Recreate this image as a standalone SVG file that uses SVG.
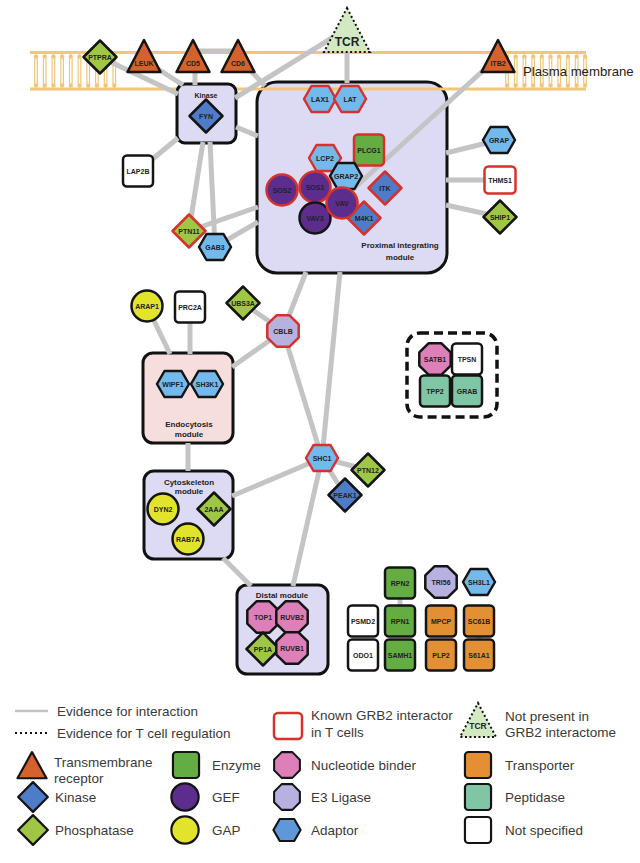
<svg xmlns="http://www.w3.org/2000/svg" xmlns:xlink="http://www.w3.org/1999/xlink" width="640" height="863" viewBox="0 0 640 863">
<style>
.e{stroke:#c4c4c4;stroke-width:5;fill:none}
.mod{fill:#dddbf3;stroke:#111;stroke-width:3}
.endo{fill:#f7dede}
.n{stroke:#141414;stroke-width:2.5;stroke-linejoin:round}
.r{stroke:#d6312b}
.tm{fill:#d4622a}.ki{fill:#4f7cc8}.ph{fill:#9fc745}.en{fill:#63ad43}.gef{fill:#5c2d8c}.gap{fill:#e2e42c}
.nb{fill:#dd80ba}.e3{fill:#b6b1df}.ad{fill:#74b9ec}.adl{fill:#5f97d8}.tr{fill:#e38f33}.pe{fill:#80c5a5}.ns{fill:#fff}
.l{font-family:"Liberation Sans",Arial,sans-serif;font-weight:bold;font-size:7px;fill:#222;text-anchor:middle}
.ml{font-family:"Liberation Sans",Arial,sans-serif;font-weight:bold;font-size:8px;fill:#222;text-anchor:middle}
.lg{font-family:"Liberation Sans",Arial,sans-serif;font-size:13.5px;fill:#3a3a3a}
.mb{stroke:#f1c67a;stroke-width:3;fill:none}
.lp{stroke:#f1c67a;stroke-width:1.2}
.hd{fill:#f1c67a}
.dot{stroke:#111;stroke-width:2;stroke-dasharray:2 2.5;fill:#d2e9c4}
</style>
<defs>
<polygon id="hex" points="-16,0 -8.5,-13 8.5,-13 16,0 8.5,13 -8.5,13"/>
<polygon id="oct" points="15.71,6.51 6.51,15.71 -6.51,15.71 -15.71,6.51 -15.71,-6.51 -6.51,-15.71 6.51,-15.71 15.71,-6.51"/>
<polygon id="dia" points="0,-16.5 16.5,0 0,16.5 -16.5,0"/>
<polygon id="tri" points="0,-17 16.5,15 -16.5,15"/>
<rect id="sq" x="-15" y="-15.5" width="30" height="31" rx="4"/>
<circle id="cir" r="15.5"/>
<g id="lip"><circle class="hd" cx="0" cy="56.5" r="2.2"/><circle class="hd" cx="0" cy="85.5" r="2.2"/><line class="lp" x1="-1.3" y1="58" x2="-1.3" y2="84"/><line class="lp" x1="1.3" y1="58" x2="1.3" y2="84"/></g>
</defs>

<rect width="640" height="863" fill="#fff"/>

<!-- Proximal module box (under membrane line) -->
<g id="mod-proximal">
<rect class="mod" x="257" y="82" width="190" height="191" rx="20"/>
</g>

<!-- Membrane -->
<g id="membrane">
<line class="mb" x1="30" y1="52.5" x2="586" y2="52.5"/>
<line class="mb" x1="30" y1="89" x2="586" y2="89"/>
<use href="#lip" x="36"/><use href="#lip" x="44.7"/><use href="#lip" x="53.4"/><use href="#lip" x="62.1"/><use href="#lip" x="70.8"/><use href="#lip" x="79.5"/><use href="#lip" x="88.2"/><use href="#lip" x="96.9"/><use href="#lip" x="105.6"/><use href="#lip" x="114.3"/>
<use href="#lip" x="507"/><use href="#lip" x="515.7"/><use href="#lip" x="524.4"/><use href="#lip" x="533.1"/><use href="#lip" x="541.8"/><use href="#lip" x="550.5"/><use href="#lip" x="559.2"/><use href="#lip" x="567.9"/><use href="#lip" x="576.6"/><use href="#lip" x="585"/>
<text class="lg" x="523" y="76" style="font-size:13.2px;fill:#222">Plasma membrane</text>
</g>

<!-- Other modules -->
<g id="mod-kinase"><rect class="mod" x="177" y="84" width="59" height="59" rx="8"/><text class="l" x="206" y="98">Kinase</text></g>
<g id="mod-endocytosis"><rect class="mod endo" x="143" y="353" width="90" height="90" rx="10"/><text class="ml" x="189" y="427">Endocytosis</text><text class="ml" x="189" y="436.5">module</text></g>
<g id="mod-cytoskeleton"><rect class="mod" x="144" y="471" width="89" height="88" rx="10"/><text class="ml" x="189" y="485">Cytoskeleton</text><text class="ml" x="189" y="494">module</text></g>
<g id="mod-distal"><rect class="mod" x="237" y="585" width="91" height="89" rx="10"/><text class="ml" x="282" y="598">Distal module</text></g>
<g id="cluster"><rect x="407" y="333" width="90" height="84" rx="13" fill="none" stroke="#111" stroke-width="3.5" stroke-dasharray="9 5"/></g>

<!-- Connectors -->
<g id="edges">
<line class="e" x1="100" y1="57" x2="178" y2="94"/>
<line class="e" x1="144" y1="60" x2="183" y2="85"/>
<line class="e" x1="195" y1="60" x2="195" y2="85"/>
<line class="e" x1="193" y1="51" x2="238" y2="51"/>
<line class="e" x1="238" y1="57" x2="265" y2="86"/>
<line class="e" x1="235" y1="98" x2="340" y2="33"/>
<line class="e" x1="347" y1="40" x2="347" y2="83"/>
<line class="e" x1="498" y1="57" x2="350" y2="192"/>
<line class="e" x1="236" y1="127" x2="258" y2="136"/>
<line class="e" x1="178" y1="138" x2="138" y2="171"/>
<line class="e" x1="203" y1="142" x2="189" y2="231"/>
<line class="e" x1="210" y1="142" x2="215" y2="247"/>
<line class="e" x1="189" y1="231" x2="258" y2="207"/>
<line class="e" x1="215" y1="247" x2="258" y2="222"/>
<line class="e" x1="446" y1="153" x2="499" y2="140"/>
<line class="e" x1="446" y1="180" x2="500" y2="180"/>
<line class="e" x1="446" y1="205" x2="500" y2="217"/>
<line class="e" x1="306" y1="272" x2="283" y2="331"/>
<line class="e" x1="340" y1="272" x2="322" y2="458"/>
<line class="e" x1="243" y1="303" x2="283" y2="331"/>
<line class="e" x1="283" y1="331" x2="232" y2="367"/>
<line class="e" x1="283" y1="331" x2="322" y2="458"/>
<line class="e" x1="147" y1="306" x2="170" y2="354"/>
<line class="e" x1="190" y1="307" x2="190" y2="354"/>
<line class="e" x1="188" y1="443" x2="188" y2="471"/>
<line class="e" x1="322" y1="458" x2="232" y2="496"/>
<line class="e" x1="322" y1="458" x2="368" y2="470"/>
<line class="e" x1="322" y1="458" x2="345" y2="495"/>
<line class="e" x1="322" y1="458" x2="293" y2="586"/>
<line class="e" x1="223" y1="558" x2="251" y2="586"/>
<line class="e" x1="400" y1="583" x2="400" y2="621"/>
<line class="e" x1="479" y1="621" x2="479" y2="655"/>
</g>

<!-- Membrane nodes -->
<g id="PTPRA" transform="translate(100,57)"><use href="#dia" class="n ph"/><text class="l" y="2.5">PTPRA</text></g>
<g id="LEUK" transform="translate(144,57)"><use href="#tri" class="n tm"/><text class="l" y="8.5">LEUK</text></g>
<g id="CD5" transform="translate(193,57)"><use href="#tri" class="n tm"/><text class="l" y="8.5">CD5</text></g>
<g id="CD6" transform="translate(238,57)"><use href="#tri" class="n tm"/><text class="l" y="8.5">CD6</text></g>
<g id="ITB2" transform="translate(498,57)"><use href="#tri" class="n tm"/><text class="l" y="8.5">ITB2</text></g>
<g id="TCR"><polygon class="dot" points="347,8 370,52 324,52"/><text class="l" x="347" y="46" style="font-size:12px">TCR</text></g>

<!-- Kinase module -->
<g id="FYN" transform="translate(206,116)"><use href="#dia" class="n ki"/><text class="l" y="2.5">FYN</text></g>
<g id="LAP2B" transform="translate(138,171)"><use href="#sq" class="n ns"/><text class="l" y="2.5">LAP2B</text></g>
<g id="PTN11" transform="translate(189,231)"><use href="#dia" class="n r ph"/><text class="l" y="2.5">PTN11</text></g>
<g id="GAB3" transform="translate(215,247)"><use href="#hex" class="n ad"/><text class="l" y="2.5">GAB3</text></g>

<!-- Proximal module nodes -->
<g id="LAX1" transform="translate(320,99)"><use href="#hex" class="n r ad"/><text class="l" y="2.5">LAX1</text></g>
<g id="LAT" transform="translate(350,99)"><use href="#hex" class="n r ad"/><text class="l" y="2.5">LAT</text></g>
<g id="PLCG1" transform="translate(369,150)"><use href="#sq" class="n r en"/><text class="l" y="2.5">PLCG1</text></g>
<g id="LCP2" transform="translate(325,158)"><use href="#hex" class="n r ad"/><text class="l" y="2.5">LCP2</text></g>
<g id="GRAP2" transform="translate(346,176)"><use href="#hex" class="n ad"/><text class="l" y="2.5">GRAP2</text></g>
<g id="ITK" transform="translate(385,188)"><use href="#dia" class="n r ki"/><text class="l" y="2.5">ITK</text></g>
<g id="SOS2" transform="translate(282,190)"><use href="#cir" class="n r gef"/><text class="l" y="2.5">SOS2</text></g>
<g id="SOS1" transform="translate(315,187)"><use href="#cir" class="n r gef"/><text class="l" y="2.5">SOS1</text></g>
<g id="VAV3" transform="translate(315,218)"><use href="#cir" class="n gef"/><text class="l" y="2.5">VAV3</text></g>
<g id="M4K1" transform="translate(364,218)"><use href="#dia" class="n r ki"/><text class="l" y="2.5">M4K1</text></g>
<g id="VAV" transform="translate(342,203)"><use href="#cir" class="n r gef"/><text class="l" y="2.5">VAV</text></g>
<g id="proximal-label"><text class="ml" x="400" y="248">Proximal integrating</text><text class="ml" x="400" y="260">module</text></g>

<!-- Right nodes -->
<g id="GRAP" transform="translate(499,140)"><use href="#hex" class="n ad"/><text class="l" y="2.5">GRAP</text></g>
<g id="THMS1" transform="translate(500,180)"><rect x="-15.5" y="-13.5" width="31" height="27" rx="4" class="n r ns"/><text class="l" y="2.5">THMS1</text></g>
<g id="SHIP1" transform="translate(500,217)"><use href="#dia" class="n ph"/><text class="l" y="2.5">SHIP1</text></g>

<!-- Middle -->
<g id="ARAP1" transform="translate(147,306)"><use href="#cir" class="n gap"/><text class="l" y="2.5">ARAP1</text></g>
<g id="PRC2A" transform="translate(190,307)"><use href="#sq" class="n ns"/><text class="l" y="2.5">PRC2A</text></g>
<g id="UBS3A" transform="translate(243,303)"><use href="#dia" class="n ph"/><text class="l" y="2.5">UBS3A</text></g>
<g id="CBLB" transform="translate(283,331)"><use href="#oct" class="n r e3"/><text class="l" y="2.5">CBLB</text></g>
<g id="WIPF1" transform="translate(173,384)"><use href="#hex" class="n ad"/><text class="l" y="2.5">WIPF1</text></g>
<g id="SH3K1" transform="translate(207,384)"><use href="#hex" class="n ad"/><text class="l" y="2.5">SH3K1</text></g>

<g id="SATB1" transform="translate(435,359)"><use href="#oct" class="n nb"/><text class="l" y="2.5">SATB1</text></g>
<g id="TPSN" transform="translate(467,359)"><use href="#sq" class="n ns"/><text class="l" y="2.5">TPSN</text></g>
<g id="TPP2" transform="translate(435,391)"><use href="#sq" class="n pe"/><text class="l" y="2.5">TPP2</text></g>
<g id="GRAB" transform="translate(467,391)"><use href="#sq" class="n pe"/><text class="l" y="2.5">GRAB</text></g>

<g id="SHC1" transform="translate(322,458)"><use href="#hex" class="n r ad"/><text class="l" y="2.5">SHC1</text></g>
<g id="PTN12" transform="translate(368,470)"><use href="#dia" class="n ph"/><text class="l" y="2.5">PTN12</text></g>
<g id="PEAK1" transform="translate(345,495)"><use href="#dia" class="n ki"/><text class="l" y="2.5">PEAK1</text></g>

<g id="DYN2" transform="translate(163,509)"><use href="#cir" class="n gap"/><text class="l" y="2.5">DYN2</text></g>
<g id="2AAA" transform="translate(214,509)"><use href="#dia" class="n ph"/><text class="l" y="2.5">2AAA</text></g>
<g id="RAB7A" transform="translate(188,539)"><use href="#cir" class="n gap"/><text class="l" y="2.5">RAB7A</text></g>

<g id="TOP1" transform="translate(263,617)"><use href="#oct" class="n nb"/><text class="l" y="2.5">TOP1</text></g>
<g id="RUVB2" transform="translate(292,617)"><use href="#oct" class="n nb"/><text class="l" y="2.5">RUVB2</text></g>
<g id="PP1A" transform="translate(263,649)"><use href="#dia" class="n ph"/><text class="l" y="2.5">PP1A</text></g>
<g id="RUVB1" transform="translate(292,648)"><use href="#oct" class="n nb"/><text class="l" y="2.5">RUVB1</text></g>

<g id="PSMD2" transform="translate(363,621)"><use href="#sq" class="n ns"/><text class="l" y="2.5">PSMD2</text></g>
<g id="ODO1" transform="translate(363,655)"><use href="#sq" class="n ns"/><text class="l" y="2.5">ODO1</text></g>
<g id="RPN2" transform="translate(400,583)"><use href="#sq" class="n en"/><text class="l" y="2.5">RPN2</text></g>
<g id="RPN1" transform="translate(400,621)"><use href="#sq" class="n en"/><text class="l" y="2.5">RPN1</text></g>
<g id="SAMH1" transform="translate(400,655)"><use href="#sq" class="n en"/><text class="l" y="2.5">SAMH1</text></g>
<g id="TRI56" transform="translate(441,582)"><use href="#oct" class="n e3"/><text class="l" y="2.5">TRI56</text></g>
<g id="MPCP" transform="translate(441,621)"><use href="#sq" class="n tr"/><text class="l" y="2.5">MPCP</text></g>
<g id="PLP2" transform="translate(441,655)"><use href="#sq" class="n tr"/><text class="l" y="2.5">PLP2</text></g>
<g id="SH3L1" transform="translate(479,582)"><use href="#hex" class="n ad"/><text class="l" y="2.5">SH3L1</text></g>
<g id="SC61B" transform="translate(479,621)"><use href="#sq" class="n tr"/><text class="l" y="2.5">SC61B</text></g>
<g id="S61A1" transform="translate(479,655)"><use href="#sq" class="n tr"/><text class="l" y="2.5">S61A1</text></g>

<!-- Legend -->
<g id="legend">
<line x1="15" y1="711" x2="48" y2="711" stroke="#c4c4c4" stroke-width="2.5"/>
<text class="lg" x="57" y="716">Evidence for interaction</text>
<line x1="15" y1="733" x2="48" y2="733" stroke="#111" stroke-width="2" stroke-dasharray="2 3"/>
<text class="lg" x="57" y="738">Evidence for T cell regulation</text>
<rect x="274" y="713" width="28" height="26" rx="4" fill="#fff" stroke="#d6312b" stroke-width="2.5"/>
<text class="lg" x="311" y="720">Known GRB2 interactor</text>
<text class="lg" x="311" y="737">in T cells</text>
<polygon class="dot" points="478,703 496,737 460,737"/>
<text class="l" x="478" y="729" style="font-size:8.5px">TCR</text>
<text class="lg" x="505" y="721">Not present in</text>
<text class="lg" x="505" y="737">GRB2 interactome</text>

<use href="#tri" class="n tm" transform="translate(32,766) scale(0.88,0.82)"/>
<text class="lg" x="54" y="767">Transmembrane</text>
<text class="lg" x="54" y="783">receptor</text>
<use href="#dia" class="n ki" transform="translate(33,797) scale(0.9)"/>
<text class="lg" x="55" y="802">Kinase</text>
<use href="#dia" class="n ph" transform="translate(33,830) scale(0.9)"/>
<text class="lg" x="55" y="835">Phosphatase</text>

<use href="#sq" class="n en" transform="translate(186,765) scale(0.87,0.84)"/>
<text class="lg" x="212" y="770">Enzyme</text>
<use href="#cir" class="n gef" transform="translate(185,797) scale(0.88)"/>
<text class="lg" x="212" y="802">GEF</text>
<use href="#cir" class="n gap" transform="translate(185,830) scale(0.88)"/>
<text class="lg" x="212" y="835">GAP</text>

<use href="#oct" class="n nb" transform="translate(287,765) scale(0.82)"/>
<text class="lg" x="311" y="770">Nucleotide binder</text>
<use href="#oct" class="n e3" transform="translate(287,797) scale(0.82)"/>
<text class="lg" x="311" y="802">E3 Ligase</text>
<use href="#hex" class="n adl" transform="translate(287,830) scale(0.85)"/>
<text class="lg" x="311" y="835">Adaptor</text>

<use href="#sq" class="n tr" transform="translate(478,765) scale(0.87,0.84)"/>
<text class="lg" x="505" y="770">Transporter</text>
<use href="#sq" class="n pe" transform="translate(478,797) scale(0.87,0.84)"/>
<text class="lg" x="505" y="802">Peptidase</text>
<use href="#sq" class="n ns" transform="translate(478,830) scale(0.87,0.84)"/>
<text class="lg" x="505" y="835">Not specified</text>
</g>
</svg>
